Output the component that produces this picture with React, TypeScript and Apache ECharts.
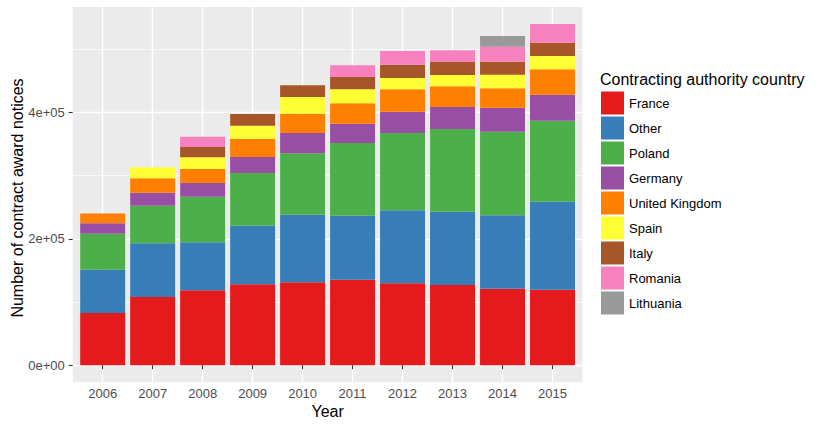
import React, { useEffect, useRef } from 'react';
import * as echarts from 'echarts';

const years = ['2006', '2007', '2008', '2009', '2010', '2011', '2012', '2013', '2014', '2015'];

const france = [82700, 108000, 118600, 128100, 131200, 135300, 129600, 127000, 121100, 119500];
const other = [68300, 84900, 75900, 92600, 106900, 101200, 115500, 115800, 116000, 139200];
const poland = [57000, 59400, 72100, 83300, 97100, 115000, 122200, 130800, 132200, 128000];
const germany = [16500, 20600, 21600, 25300, 32100, 30500, 33700, 34800, 38000, 41100];
const unitedKingdom = [15500, 22700, 22200, 29000, 30500, 32200, 35400, 32700, 30600, 40200];
const spain = [0, 17400, 18400, 20500, 26400, 22200, 17800, 17900, 21500, 21000];
const italy = [0, 0, 16300, 18500, 18500, 19400, 21100, 20500, 20600, 21000];
const romania = [0, 0, 16300, 0, 0, 18500, 21600, 18500, 23700, 29600];
const lithuania = [0, 0, 0, 0, 0, 0, 0, 0, 16900, 0];

const countryNames = ['France', 'Other', 'Poland', 'Germany', 'United Kingdom', 'Spain', 'Italy', 'Romania', 'Lithuania'];
const countryValues = [france, other, poland, germany, unitedKingdom, spain, italy, romania, lithuania];
const countryColors = ['#E41A1C', '#377EB8', '#4DAF4A', '#984EA3', '#FF7F00', '#FFFF33', '#A65628', '#F781BF', '#999999'];

const yMajorTicks = [0, 200000, 400000];
const yMajorLabels = ['0e+00', '2e+05', '4e+05'];
const yMinorTicks = [100000, 300000, 500000];

export default function App() {
  const ref = useRef<HTMLDivElement>(null);
  useEffect(() => {
    document.body.style.margin = '0';
    const chart = echarts.init(ref.current as HTMLDivElement, null, { renderer: 'svg' });
    const font = '"Liberation Sans", Arial, Helvetica, sans-serif';
    const xPos = years.map((_, i) => i + 1);
    const totals = years.map((_, i) => countryValues.reduce((s, arr) => s + arr[i], 0));
    const maxTotal = Math.max(...totals);
    const yMin = -0.05 * maxTotal;
    const yMax = maxTotal * 1.05;
    const tickStyle = { color: '#333333', width: 1.1 };

    const panelLeft = 72.7;
    const panelRight = 582.5;
    const unit = (panelRight - panelLeft) / 10.2;

    chart.setOption({
      animation: false,
      textStyle: { fontFamily: font },
      grid: [
        {
          left: panelLeft,
          right: 830 - panelRight,
          top: 7,
          bottom: 45.7,
          show: true,
          backgroundColor: '#EBEBEB',
          borderWidth: 0,
        },
        {
          left: panelLeft + 0.1 * unit,
          right: 830 - panelRight + 0.1 * unit,
          top: 7,
          bottom: 45.7,
          show: false,
        },
      ],
      xAxis: [
        {
          type: 'value',
          gridIndex: 0,
          min: 0.4,
          max: 10.6,
          axisLine: { show: false },
          axisTick: { show: true, customValues: xPos, length: 4, lineStyle: tickStyle },
          axisLabel: {
            customValues: xPos,
            formatter: (v: number) => years[Math.round(v) - 1] ?? '',
            color: '#4D4D4D',
            fontSize: 13,
            fontFamily: font,
            margin: 5,
          },
          splitLine: { show: true, lineStyle: { color: '#FFFFFF', width: 1.4 } },
        },
        {
          type: 'category',
          gridIndex: 1,
          data: years,
          boundaryGap: true,
          axisLine: { show: false },
          axisTick: { show: false },
          axisLabel: { show: false },
          splitLine: { show: false },
        },
      ],
      yAxis: [
        {
          type: 'value',
          gridIndex: 0,
          min: yMin,
          max: yMax,
          axisLine: { show: false },
          axisTick: { show: true, customValues: yMajorTicks, length: 4, lineStyle: tickStyle },
          axisLabel: {
            customValues: yMajorTicks,
            formatter: (v: number) => {
              const idx = yMajorTicks.indexOf(Math.round(v));
              return idx >= 0 ? yMajorLabels[idx] : '';
            },
            color: '#4D4D4D',
            fontSize: 13,
            fontFamily: font,
            margin: 8,
          },
          splitLine: { show: true, lineStyle: { color: '#FFFFFF', width: 1.4 } },
        },
        {
          type: 'value',
          gridIndex: 0,
          min: yMin,
          max: yMax,
          position: 'left',
          axisLine: { show: false },
          axisTick: { show: false, customValues: yMinorTicks },
          axisLabel: { show: false, customValues: yMinorTicks },
          splitLine: { show: true, lineStyle: { color: '#FFFFFF', width: 0.7 } },
        },
        {
          type: 'value',
          gridIndex: 1,
          min: yMin,
          max: yMax,
          axisLine: { show: false },
          axisTick: { show: false },
          axisLabel: { show: false },
          splitLine: { show: false },
        },
      ],
      legend: {
        orient: 'vertical',
        left: 601,
        top: 91.5,
        itemWidth: 23,
        itemHeight: 23,
        itemGap: 2,
        padding: 0,
        icon: 'rect',
        selectedMode: false,
        data: countryNames,
        textStyle: { fontSize: 13, color: '#000000', fontFamily: font },
      },
      graphic: [
        {
          type: 'text',
          x: 600,
          y: 79,
          style: {
            text: 'Contracting authority country',
            fontSize: 16,
            fontFamily: font,
            fill: '#000000',
            align: 'left',
            verticalAlign: 'middle',
          },
        },
        {
          type: 'text',
          x: 17,
          y: 198,
          rotation: Math.PI / 2,
          style: {
            text: 'Number of contract award notices',
            fontSize: 16,
            fontFamily: font,
            fill: '#000000',
            align: 'center',
            verticalAlign: 'middle',
          },
        },
        {
          type: 'text',
          x: 327.6,
          y: 411.7,
          style: {
            text: 'Year',
            fontSize: 16,
            fontFamily: font,
            fill: '#000000',
            align: 'center',
            verticalAlign: 'middle',
          },
        },
      ],
      series: countryNames.map((name, k) => ({
        name,
        type: 'bar',
        stack: 'total',
        xAxisIndex: 1,
        yAxisIndex: 2,
        barWidth: 0.9 * unit,
        itemStyle: { color: countryColors[k] },
        data: countryValues[k],
      })),
    });
    return () => chart.dispose();
  }, []);
  return <div ref={ref} style={{ width: 830, height: 428 }} />;
}
